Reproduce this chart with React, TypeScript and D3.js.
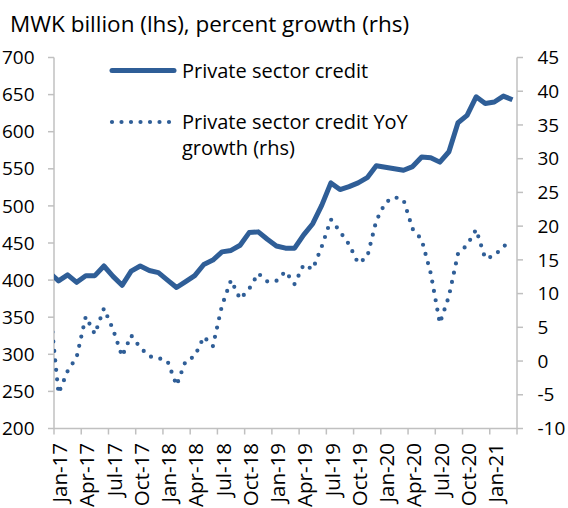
import React from "react";
import * as d3 from "d3";

// Months: Dec-16 (clipped lead-in point) .. Mar-21
const months: string[] = [
  "Dec-16",
  "Jan-17","Feb-17","Mar-17","Apr-17","May-17","Jun-17","Jul-17","Aug-17","Sep-17","Oct-17","Nov-17","Dec-17",
  "Jan-18","Feb-18","Mar-18","Apr-18","May-18","Jun-18","Jul-18","Aug-18","Sep-18","Oct-18","Nov-18","Dec-18",
  "Jan-19","Feb-19","Mar-19","Apr-19","May-19","Jun-19","Jul-19","Aug-19","Sep-19","Oct-19","Nov-19","Dec-19",
  "Jan-20","Feb-20","Mar-20","Apr-20","May-20","Jun-20","Jul-20","Aug-20","Sep-20","Oct-20","Nov-20","Dec-20",
  "Jan-21","Feb-21","Mar-21",
];

// Private sector credit, MWK billion (lhs)
const credit: number[] = [
  410,
  399, 407, 397, 406, 406, 419, 405, 393, 412, 419, 413, 410,
  400, 390, 398, 406, 421, 427, 438, 440, 447, 464, 465, 455,
  446, 443, 443, 461, 476, 501, 531, 522, 526, 531, 538, 554,
  552, 550, 548, 553, 566, 565, 559, 573, 612, 622, 647, 638,
  640, 648, 643,
];

// Private sector credit YoY growth, percent (rhs)
const growth: number[] = [
  8.5,
  -4.8, -1.5, 0.6, 6.6, 4.0, 7.8, 4.7, 0.7, 3.8, 2.0, 0.7, 0.45,
  0.0, -3.6, 0.0, 0.7, 3.6, 2.2, 8.2, 12.0, 9.2, 10.7, 13.0, 11.8,
  11.9, 13.3, 11.4, 14.3, 13.6, 17.0, 21.0, 19.2, 17.3, 14.5, 15.4, 20.8,
  23.5, 24.3, 23.9, 19.6, 18.0, 13.0, 5.6, 9.6, 15.9, 17.2, 19.5, 15.2,
  15.6, 17.0, 17.8,
];

const leftTicks: number[] = [200, 250, 300, 350, 400, 450, 500, 550, 600, 650, 700];
const rightTicks: number[] = [-10, -5, 0, 5, 10, 15, 20, 25, 30, 35, 40, 45];
const labelEvery = 3;

const subtitle = "MWK billion (lhs), percent growth (rhs)";
const legend1 = "Private sector credit";
const legend2a = "Private sector credit YoY";
const legend2b = "growth (rhs)";

const W = 568;
const H = 508;
const L = 54;
const R = 517;
const T = 57.5;
const B = 428.5;
const BLUE = "#2f5e97";
const AXIS = "#c0c0c0";
const FONT = "'Open Sans', sans-serif";

export default function App() {
  const x = d3.scaleLinear().domain([0.5, months.length - 0.5]).range([L, R]);
  const yL = d3.scaleLinear().domain([200, 700]).range([B, T]);
  const yR = d3.scaleLinear().domain([-10, 45]).range([B, T]);

  const lineL = d3.line<number>().x((_, i) => x(i)).y((d) => yL(d));
  const lineR = d3.line<number>().x((_, i) => x(i)).y((d) => yR(d));

  const tickIdx: number[] = [];
  for (let i = 1; i < months.length; i += labelEvery) tickIdx.push(i);
  const xTicks = tickIdx.map((i) => i - 0.5).concat([months.length - 0.5]);

  return (
    <svg width={W} height={H} style={{ position: "absolute", left: 0, top: 0 }} fontFamily={FONT}>
      <defs>
        <clipPath id="plot">
          <rect x={L} y={0} width={R - L} height={H} />
        </clipPath>
      </defs>
      <text x={10} y={32} fontSize={22.5} fill="#000">{subtitle}</text>

      {/* axes */}
      <line x1={L} x2={L} y1={T} y2={B} stroke={AXIS} strokeWidth={1.5} />
      <line x1={R} x2={R} y1={T} y2={B} stroke={AXIS} strokeWidth={1.5} />
      <line x1={L} x2={R} y1={B} y2={B} stroke={AXIS} strokeWidth={1.5} />
      {leftTicks.map((t) => (
        <g key={"l" + t}>
          <line x1={L - 6} x2={L} y1={yL(t)} y2={yL(t)} stroke={AXIS} strokeWidth={1.5} />
          <text x={34.5} y={yL(t)} dy="0.35em" textAnchor="end" fontSize={19} fill="#000">{t}</text>
        </g>
      ))}
      {rightTicks.map((t) => (
        <g key={"r" + t}>
          <line x1={R} x2={R + 6} y1={yR(t)} y2={yR(t)} stroke={AXIS} strokeWidth={1.5} />
          <text x={537.5} y={yR(t)} dy="0.35em" textAnchor="start" fontSize={19} fill="#000">{t}</text>
        </g>
      ))}
      {xTicks.map((v) => (
        <line key={"xt" + v} x1={x(v)} x2={x(v)} y1={B} y2={B + 6} stroke={AXIS} strokeWidth={1.5} />
      ))}
      {tickIdx.map((i) => (
        <text
          key={"xl" + i}
          transform={`translate(${x(i) + 1.5},443) rotate(-90)`}
          dy="0.35em"
          textAnchor="end"
          fontSize={20.5}
          fill="#000"
        >
          {months[i]}
        </text>
      ))}

      {/* series */}
      <g clipPath="url(#plot)">
        <path d={lineR(growth) ?? ""} fill="none" stroke={BLUE} strokeWidth={4.2} strokeLinecap="round" strokeDasharray="0 9.5" />
        <path d={lineL(credit) ?? ""} fill="none" stroke={BLUE} strokeWidth={5} strokeLinejoin="round" />
      </g>

      {/* legend */}
      <line x1={112} x2={174} y1={70.5} y2={70.5} stroke={BLUE} strokeWidth={5} strokeLinecap="round" />
      <text x={182} y={70.5} dy="0.35em" fontSize={20} fill="#000">{legend1}</text>
      <line x1={112} x2={174} y1={122} y2={122} stroke={BLUE} strokeWidth={4.2} strokeLinecap="round" strokeDasharray="0 9.5" />
      <text x={182} y={122} dy="0.35em" fontSize={20} fill="#000">{legend2a}</text>
      <text x={182} y={148} dy="0.35em" fontSize={20} fill="#000">{legend2b}</text>
    </svg>
  );
}
